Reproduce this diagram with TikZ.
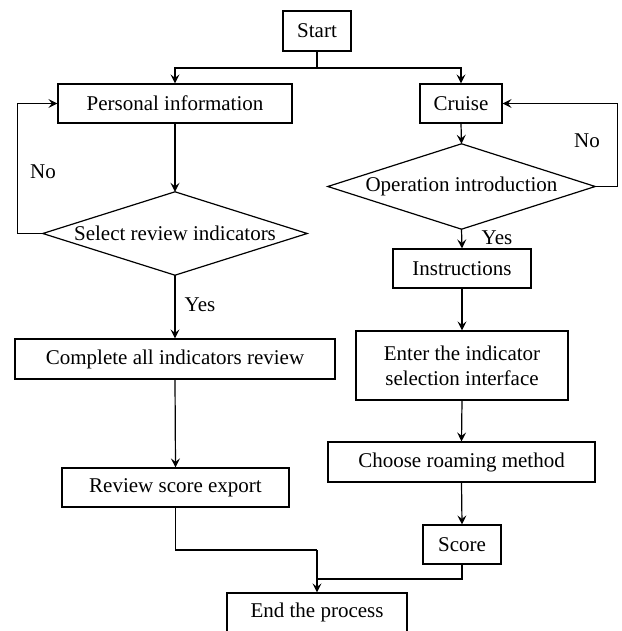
\documentclass[tikz,border=0pt]{standalone}
\usepackage{fontspec}
\setmainfont{Liberation Serif}
\usetikzlibrary{arrows.meta}
\begin{document}
\begin{tikzpicture}[x=1pt,y=-1pt,
  every node/.style={font=\fontsize{21}{25}\selectfont},
  box/.style={draw, line width=1.2pt, inner sep=0pt, align=center},
  dia/.style={inner sep=0pt},
  lbl/.style={inner sep=0pt},
  conn/.style={line width=1.2pt},
  arr/.style={conn, -{Stealth[length=9pt,width=9pt,inset=3.5pt]}}]
\useasboundingbox (0,0) rectangle (621,631);

\node[box, minimum width=68pt, minimum height=40pt] (start) at (317,31) {Start};
\node[box, minimum width=234pt, minimum height=39pt] (pinfo) at (175,103.5) {Personal information};
\node[box, minimum width=82pt, minimum height=39pt] (cruise) at (461,103.5) {Cruise};
\node[dia, minimum width=264pt, minimum height=83pt] (sel) at (175,233.5) {Select review indicators};
\draw[conn] (sel.north) -- (sel.east) -- (sel.south) -- (sel.west) -- cycle;
\node[dia, minimum width=267pt, minimum height=85pt] (op) at (461.5,186.5) {Operation introduction};
\draw[conn] (op.north) -- (op.east) -- (op.south) -- (op.west) -- cycle;
\node[box, minimum width=138pt, minimum height=39pt] (instr) at (462,268.5) {Instructions};
\node[box, minimum width=212pt, minimum height=69pt] (enter) at (462,365.5) {Enter the indicator\\selection interface};
\node[box, minimum width=267pt, minimum height=40pt] (choose) at (461.5,462) {Choose roaming method};
\node[box, minimum width=78pt, minimum height=39pt] (score) at (462,544.5) {Score};
\node[box, minimum width=320pt, minimum height=40pt] (complete) at (175,359) {Complete all indicators review};
\node[box, minimum width=227pt, minimum height=39pt] (review) at (175.5,487.5) {Review score export};
\node[box, minimum width=180pt, minimum height=39pt] (end) at (317,612.5) {End the process};

\node[lbl] (no1) at (43,172) {No};
\node[lbl] (no2) at (587,141) {No};
\node[lbl] (yes1) at (200,305) {Yes};
\node[lbl] (yes2) at (497,238) {Yes};

\coordinate (split) at (317,68);
\coordinate (j1) at (317,550);
\coordinate (j2) at (317,579);

\draw[conn] (start.south) -- (split);
\draw[arr] (split) -| (pinfo.north);
\draw[arr] (split) -| (cruise.north);
\draw[arr] (pinfo.south) -- (sel.north);
\draw[arr] (sel.west) -- ++(-25,0) |- (pinfo.west);
\draw[arr] (sel.south) -- (complete.north);
\draw[arr] (complete.south) -- (review.north);
\draw[conn] (review.south) |- (j1);
\draw[arr] (j1) -- (end.north);
\draw[conn] (score.south) |- (j2);
\draw[arr] (cruise.south) -- (op.north);
\draw[arr] (op.east) -- ++(22,0) |- (cruise.east);
\draw[arr] (op.south) -- (instr.north);
\draw[arr] (instr.south) -- (enter.north);
\draw[arr] (enter.south) -- (choose.north);
\draw[arr] (choose.south) -- (score.north);
\end{tikzpicture}
\end{document}
